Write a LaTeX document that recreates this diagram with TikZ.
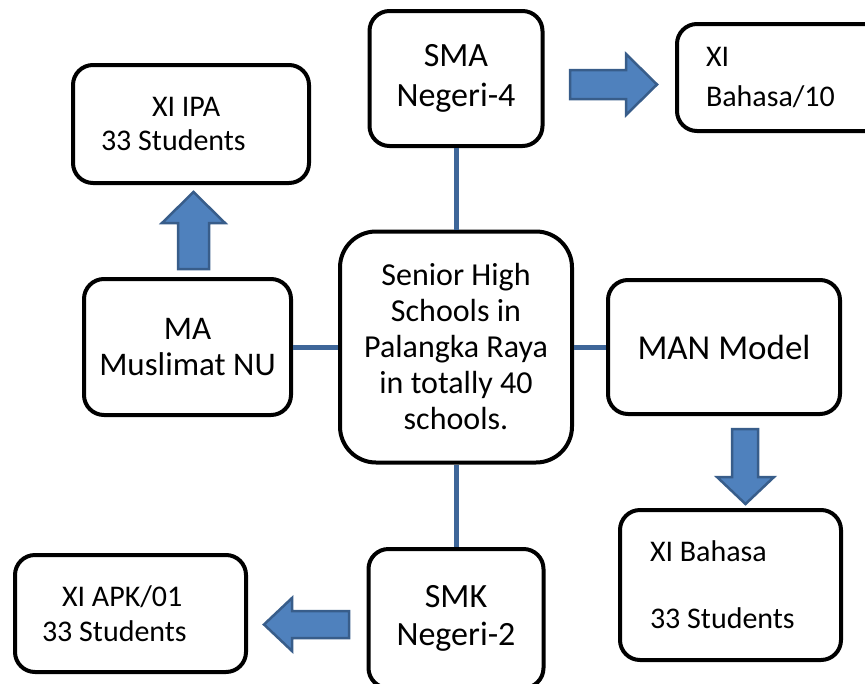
\documentclass[tikz,border=0pt]{standalone}
\usepackage{fontspec}
\setmainfont{Carlito}
\usepackage{xcolor}
\definecolor{Link}{HTML}{3E6699}
\definecolor{ArrowFill}{HTML}{4F81BD}
\definecolor{ArrowLine}{HTML}{385D8A}
\tikzset{
    box/.style={draw, line width=4pt, rounded corners=20pt, fill=white, align=center, inner sep=0pt},
    leftbox/.style={box, align=flush left},
    link/.style={draw=Link, line width=5pt},
    blockarrow/.style={fill=ArrowFill, draw=ArrowLine, line width=2.5pt, line join=miter}
}

\begin{document}
\begin{tikzpicture}[x=1pt, y=-1pt]
        \useasboundingbox (0,0) rectangle (865,683);

        % Add the centre box and the schools round it
        \node[box, rounded corners=36pt, minimum width=232pt, minimum height=231pt, font=\fontsize{32}{36}\selectfont] (hub) at (456,347)
            {Senior High\\Schools in\\Palangka Raya\\in totally 40\\schools.};
        \node[box, minimum width=173pt, minimum height=135pt, font=\fontsize{34}{40}\selectfont] (sma) at (456,78.5) {SMA\\Negeri-4};
        \node[box, minimum width=207pt, minimum height=136pt, font=\fontsize{33}{36}\selectfont] (ma) at (187.5,347) {MA\\Muslimat NU};
        \node[box, minimum width=232pt, minimum height=134pt, font=\fontsize{35}{40}\selectfont] (man) at (724,347) {MAN Model};
        \node[box, minimum width=175pt, minimum height=139pt, font=\fontsize{34}{38}\selectfont] (smk) at (456,618.5) {SMK\\Negeri-2};

        % Add the classes
        \node[leftbox, text width=153pt, inner xsep=29pt, minimum height=107pt, font=\fontsize{30}{40}\selectfont] (bah10) at (782.5,77.5) {XI\\Bahasa/10};
        \node[leftbox, text width=180pt, inner xsep=28pt, minimum height=118pt, font=\fontsize{30}{34}\selectfont] (ipa) at (191,124) {\hspace*{51pt}XI IPA\\33 Students};
        \node[leftbox, text width=161pt, inner xsep=30pt, minimum height=150pt, font=\fontsize{30}{34}\selectfont] (bah) at (730.5,585) {XI Bahasa\\[33pt]33 Students};
        \node[leftbox, text width=177pt, inner xsep=27pt, minimum height=117pt, font=\fontsize{30}{35}\selectfont] (apk) at (130.5,613.5) {\hspace*{20pt}XI APK/01\\33 Students};

        % Add the connectors
        \draw[link] (sma) -- (hub);
        \draw[link] (ma) -- (hub);
        \draw[link] (hub) -- (man);
        \draw[link] (hub) -- (smk);

        % Add the block arrows
        \draw[blockarrow] (570,70) -- (626,70) -- (626,54) -- (657,84.5) -- (626,115) -- (626,99) -- (570,99) -- cycle;
        \draw[blockarrow] (178,269) -- (178,223) -- (162,223) -- (193.5,192) -- (225,223) -- (209,223) -- (209,269) -- cycle;
        \draw[blockarrow] (732,429) -- (758,429) -- (758,477) -- (774,477) -- (745.5,504) -- (717,477) -- (732,477) -- cycle;
        \draw[blockarrow] (349,611) -- (292,611) -- (292,598) -- (264,624.5) -- (292,651) -- (292,638) -- (349,638) -- cycle;
\end{tikzpicture}
\end{document}
